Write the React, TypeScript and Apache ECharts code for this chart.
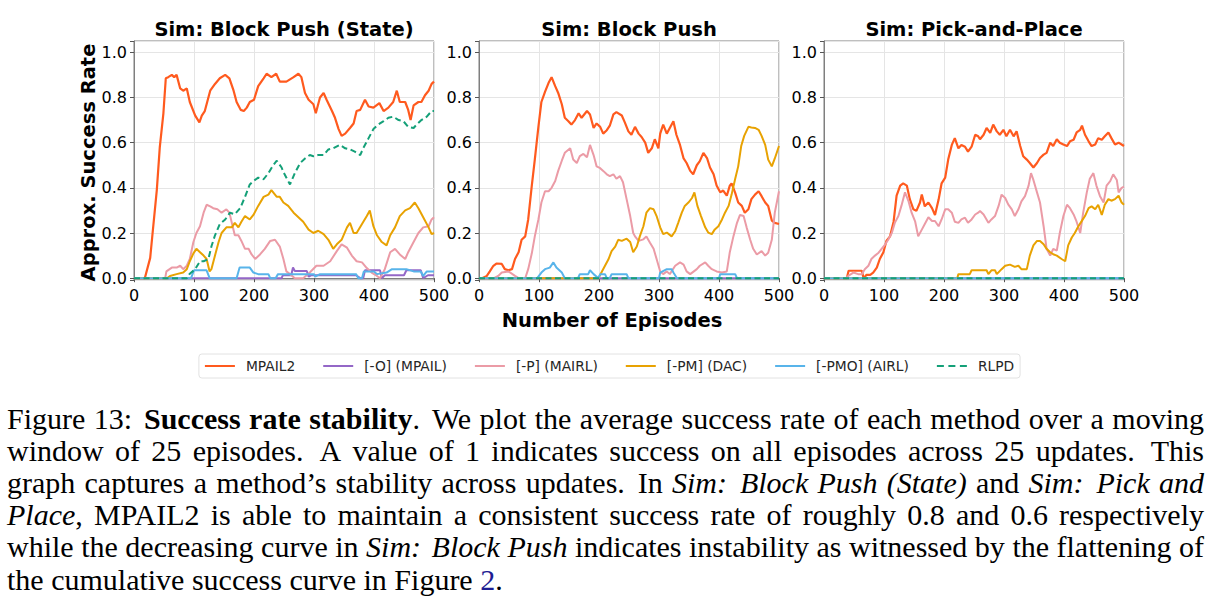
import { useEffect, useRef } from 'react';
import * as echarts from 'echarts';

type Pt = [number, number];

const METHODS = ['MPAIL2', '[-O] (MPAIL)', '[-P] (MAIRL)', '[-PM] (DAC)', '[-PMO] (AIRL)', 'RLPD'];
const METHOD_COLORS = ['#ff5a1e', '#9467c7', '#eb9ba6', '#e8a202', '#58b4ea', '#14a078'];
const PANEL_TITLES = ['Sim: Block Push (State)', 'Sim: Block Push', 'Sim: Pick-and-Place'];
const X_TITLE = 'Number of Episodes';
const Y_TITLE = 'Approx. Success Rate';

// ---- Sim: Block Push (State) ----
const bpsMpail2: Pt[] = [[0,0],[18,0],[27,0.09],[31,0.2],[38,0.39],[43,0.58],[49,0.73],[53,0.885],[57,0.89],[63,0.9],[67,0.89],[71,0.9],[77,0.84],[82,0.83],[88,0.84],[93,0.78],[102,0.72],[109,0.69],[113,0.72],[118,0.74],[127,0.83],[135,0.86],[143,0.885],[152,0.9],[159,0.885],[166,0.83],[171,0.78],[178,0.745],[183,0.74],[188,0.755],[193,0.78],[200,0.79],[207,0.85],[216,0.885],[221,0.905],[229,0.89],[237,0.905],[243,0.87],[254,0.87],[266,0.89],[274,0.905],[279,0.89],[285,0.82],[291,0.79],[299,0.77],[303,0.73],[310,0.8],[316,0.82],[321,0.79],[330,0.74],[335,0.71],[341,0.66],[346,0.63],[352,0.64],[360,0.665],[366,0.685],[371,0.74],[377,0.745],[385,0.79],[391,0.76],[399,0.755],[409,0.775],[416,0.74],[424,0.755],[432,0.78],[438,0.83],[443,0.78],[452,0.78],[457,0.745],[461,0.7],[466,0.765],[474,0.78],[479,0.78],[485,0.81],[491,0.83],[496,0.86],[500,0.87]];
const bpsMpail: Pt[] = [[0,0],[246,0],[248,0.013],[262,0.013],[265,0.047],[268,0.032],[288,0.032],[291,0.007],[295,0.013],[370,0.013],[377,0],[382,0],[385,0.035],[410,0.035],[413,0],[418,0.013],[450,0.013],[454,0.035],[478,0.035],[482,0],[490,0.013],[500,0.013]];
const bpsMairl: Pt[] = [[0,0],[52,0],[54,0.03],[63,0.047],[71,0.047],[77,0.055],[82,0.04],[88,0.055],[93,0.085],[99,0.16],[104,0.2],[110,0.23],[116,0.29],[121,0.325],[127,0.318],[132,0.31],[139,0.305],[146,0.29],[154,0.305],[159,0.29],[163,0.245],[168,0.19],[174,0.19],[179,0.165],[185,0.13],[191,0.13],[196,0.105],[202,0.085],[210,0.105],[218,0.13],[227,0.165],[235,0.17],[243,0.14],[249,0.085],[254,0.03],[260,0.018],[268,0],[282,0],[293,0.025],[304,0.055],[316,0.055],[327,0.075],[338,0.12],[346,0.15],[355,0.135],[363,0.1],[371,0.075],[380,0.07],[388,0.045],[396,0.025],[405,0.01],[410,0],[418,0.04],[427,0.115],[435,0.13],[443,0.105],[452,0.085],[457,0.115],[466,0.16],[474,0.2],[482,0.225],[491,0.23],[496,0.26],[500,0.27]];
const bpsDac: Pt[] = [[0,0],[55,0],[60,0.01],[71,0.018],[82,0.025],[88,0.04],[93,0.075],[99,0.11],[104,0.13],[110,0.115],[116,0.1],[121,0.085],[126,0.03],[129,0.04],[135,0.1],[141,0.16],[146,0.2],[154,0.225],[163,0.225],[168,0.245],[174,0.225],[179,0.25],[185,0.275],[193,0.26],[199,0.28],[207,0.32],[216,0.36],[224,0.37],[229,0.39],[238,0.36],[243,0.36],[249,0.335],[257,0.32],[266,0.29],[274,0.27],[282,0.25],[291,0.215],[299,0.2],[307,0.21],[316,0.195],[324,0.17],[332,0.13],[338,0.15],[346,0.17],[355,0.225],[360,0.245],[366,0.2],[371,0.2],[380,0.24],[388,0.275],[393,0.3],[399,0.23],[405,0.19],[413,0.16],[421,0.145],[427,0.19],[435,0.225],[443,0.275],[452,0.3],[460,0.31],[468,0.335],[474,0.31],[482,0.27],[491,0.225],[496,0.195],[500,0.2]];
const bpsAirl: Pt[] = [[0,0],[95,0],[100,0.035],[121,0.035],[126,0],[171,0],[176,0.047],[193,0.047],[199,0.025],[207,0.018],[224,0.018],[227,0],[236,0],[240,0.018],[300,0.018],[302,0.007],[310,0.018],[370,0.018],[374,0],[380,0],[383,0.03],[400,0.03],[405,0.018],[421,0.025],[430,0.04],[454,0.04],[466,0.03],[478,0.03],[482,0.01],[488,0.03],[500,0.03]];
const bpsRlpd: Pt[] = [[0,0],[88,0],[93,0.02],[102,0.04],[110,0.075],[116,0.075],[124,0.085],[129,0.14],[135,0.19],[143,0.24],[152,0.26],[160,0.29],[168,0.283],[177,0.31],[185,0.36],[193,0.415],[199,0.43],[207,0.445],[216,0.438],[224,0.465],[232,0.5],[238,0.52],[246,0.49],[249,0.47],[254,0.445],[260,0.415],[268,0.465],[277,0.51],[285,0.53],[293,0.545],[299,0.54],[307,0.545],[316,0.545],[324,0.57],[332,0.575],[343,0.59],[352,0.575],[360,0.57],[368,0.56],[377,0.545],[382,0.575],[391,0.62],[399,0.66],[407,0.68],[416,0.695],[424,0.71],[432,0.715],[441,0.7],[449,0.695],[457,0.67],[466,0.665],[471,0.68],[479,0.7],[488,0.715],[496,0.74],[500,0.74]];

// ---- Sim: Block Push ----
const bpMpail2: Pt[] = [[0,0],[5,0],[13,0.01],[18,0.03],[24,0.055],[29,0.065],[38,0.063],[43,0.04],[49,0.035],[55,0.04],[60,0.085],[66,0.115],[71,0.17],[77,0.185],[82,0.26],[88,0.41],[93,0.525],[99,0.67],[104,0.78],[110,0.825],[116,0.865],[121,0.89],[127,0.85],[132,0.82],[138,0.77],[143,0.71],[149,0.695],[154,0.68],[160,0.7],[166,0.73],[171,0.71],[180,0.74],[185,0.725],[191,0.665],[196,0.685],[202,0.67],[207,0.64],[213,0.655],[218,0.675],[224,0.725],[229,0.735],[238,0.72],[243,0.69],[249,0.65],[254,0.635],[260,0.67],[266,0.64],[271,0.625],[277,0.6],[282,0.555],[288,0.575],[293,0.615],[299,0.575],[302,0.64],[307,0.68],[313,0.64],[318,0.665],[324,0.695],[329,0.635],[335,0.59],[341,0.53],[346,0.51],[352,0.475],[357,0.46],[363,0.5],[368,0.518],[374,0.555],[380,0.532],[385,0.49],[391,0.46],[396,0.41],[402,0.38],[407,0.388],[413,0.365],[418,0.41],[421,0.42],[427,0.378],[432,0.335],[438,0.32],[443,0.29],[449,0.305],[454,0.35],[460,0.37],[466,0.385],[471,0.363],[477,0.335],[482,0.32],[488,0.255],[493,0.245],[500,0.24]];
const bpMpail: Pt[] = [[0,0],[500,0]];
const bpMairl: Pt[] = [[0,0],[25,0],[32,0.01],[38,0.025],[49,0.03],[60,0.01],[66,0],[77,0],[82,0.04],[88,0.11],[93,0.185],[99,0.26],[104,0.335],[110,0.385],[116,0.385],[121,0.4],[127,0.43],[132,0.475],[138,0.52],[143,0.555],[152,0.575],[157,0.525],[163,0.51],[168,0.54],[174,0.55],[180,0.535],[185,0.59],[191,0.545],[196,0.495],[202,0.487],[207,0.475],[213,0.46],[218,0.452],[224,0.46],[229,0.44],[235,0.452],[240,0.425],[246,0.35],[252,0.275],[257,0.2],[260,0.185],[266,0.165],[274,0.172],[279,0.185],[285,0.157],[291,0.13],[296,0.085],[302,0.03],[307,0.018],[313,0.03],[318,0.018],[327,0.055],[335,0.07],[341,0.06],[346,0.03],[352,0.018],[357,0.028],[363,0.04],[368,0.055],[377,0.07],[382,0.055],[388,0.04],[396,0.03],[405,0.025],[413,0.03],[418,0.115],[424,0.185],[430,0.245],[435,0.28],[441,0.275],[446,0.225],[452,0.17],[457,0.13],[463,0.105],[471,0.12],[477,0.1],[482,0.113],[488,0.17],[493,0.29],[500,0.385]];
const bpDac: Pt[] = [[0,0],[199,0],[204,0.025],[210,0.055],[216,0.085],[221,0.12],[227,0.14],[232,0.17],[238,0.165],[246,0.175],[252,0.16],[257,0.115],[263,0.14],[268,0.185],[274,0.23],[279,0.29],[285,0.31],[291,0.305],[296,0.275],[302,0.225],[307,0.195],[313,0.202],[321,0.185],[327,0.208],[332,0.245],[338,0.29],[343,0.32],[349,0.335],[355,0.355],[359,0.38],[364,0.32],[370,0.275],[377,0.225],[382,0.202],[388,0.195],[393,0.216],[399,0.23],[405,0.26],[410,0.29],[416,0.32],[421,0.37],[427,0.44],[432,0.495],[437,0.585],[442,0.63],[449,0.67],[454,0.667],[460,0.665],[466,0.657],[471,0.63],[477,0.59],[482,0.525],[488,0.495],[493,0.53],[500,0.585]];
const bpAirl: Pt[] = [[0,0],[97,0],[104,0.025],[110,0.04],[118,0.047],[124,0.07],[129,0.047],[138,0.025],[143,0],[165,0],[168,0.018],[182,0.018],[185,0.035],[191,0.018],[199,0],[202,0.018],[210,0.018],[213,0],[218,0],[221,0.018],[246,0.018],[249,0],[300,0],[302,0.025],[313,0.04],[321,0.04],[324,0.025],[330,0],[400,0],[402,0.018],[427,0.018],[430,0],[500,0]];
const bpRlpd: Pt[] = [[0,0],[500,0]];

// ---- Sim: Pick-and-Place ----
const ppMpail2: Pt[] = [[0,0],[38,0],[41,0.033],[63,0.033],[66,0],[71,0.015],[77,0.015],[82,0.025],[88,0.047],[93,0.085],[99,0.115],[104,0.165],[110,0.185],[116,0.25],[121,0.365],[127,0.41],[132,0.42],[138,0.41],[143,0.35],[149,0.305],[154,0.298],[160,0.335],[163,0.37],[168,0.318],[174,0.335],[180,0.31],[185,0.28],[191,0.348],[196,0.42],[202,0.445],[207,0.525],[213,0.59],[218,0.62],[224,0.575],[229,0.59],[235,0.582],[240,0.56],[246,0.582],[252,0.635],[257,0.628],[260,0.615],[266,0.635],[271,0.665],[277,0.643],[282,0.68],[288,0.65],[293,0.635],[299,0.657],[304,0.628],[310,0.657],[316,0.628],[321,0.65],[327,0.585],[332,0.54],[338,0.525],[343,0.51],[349,0.49],[355,0.51],[360,0.532],[366,0.547],[371,0.555],[377,0.6],[382,0.585],[388,0.615],[393,0.6],[399,0.592],[405,0.585],[410,0.606],[416,0.613],[421,0.645],[427,0.657],[430,0.675],[435,0.635],[441,0.606],[446,0.585],[452,0.592],[457,0.62],[463,0.613],[468,0.628],[474,0.645],[479,0.62],[485,0.592],[491,0.6],[496,0.592],[500,0.585]];
const ppMpail: Pt[] = [[0,0],[500,0]];
const ppMairl: Pt[] = [[0,0],[36,0],[43,0.015],[49,0.025],[57,0.018],[63,0.018],[68,0.04],[74,0.055],[79,0.085],[85,0.1],[91,0.113],[96,0.13],[102,0.15],[107,0.17],[113,0.2],[118,0.245],[124,0.275],[129,0.32],[135,0.38],[141,0.34],[146,0.29],[152,0.25],[157,0.185],[163,0.215],[168,0.24],[174,0.27],[180,0.253],[185,0.253],[191,0.23],[196,0.26],[202,0.305],[207,0.305],[213,0.29],[218,0.25],[224,0.245],[229,0.26],[235,0.268],[240,0.245],[246,0.26],[252,0.282],[257,0.29],[260,0.297],[266,0.282],[274,0.245],[279,0.26],[285,0.275],[291,0.32],[296,0.37],[302,0.355],[307,0.327],[313,0.305],[318,0.275],[324,0.305],[329,0.34],[335,0.363],[341,0.41],[345,0.465],[349,0.435],[355,0.38],[360,0.335],[366,0.23],[371,0.13],[377,0.1],[382,0.13],[388,0.122],[393,0.2],[399,0.275],[405,0.325],[410,0.31],[416,0.282],[421,0.25],[427,0.2],[432,0.29],[438,0.38],[443,0.44],[449,0.465],[454,0.41],[460,0.363],[466,0.335],[471,0.41],[477,0.43],[482,0.46],[488,0.435],[491,0.38],[496,0.4],[500,0.405]];
const ppDac: Pt[] = [[0,0],[222,0],[224,0.018],[243,0.018],[246,0.035],[271,0.035],[274,0.018],[279,0.035],[285,0.035],[288,0.018],[296,0.04],[302,0.055],[310,0.06],[318,0.05],[324,0.055],[329,0.04],[338,0.04],[343,0.1],[349,0.145],[355,0.165],[360,0.165],[366,0.15],[371,0.13],[377,0.115],[382,0.106],[388,0.1],[396,0.085],[402,0.075],[407,0.145],[413,0.18],[418,0.2],[424,0.23],[430,0.255],[435,0.275],[441,0.31],[446,0.318],[452,0.305],[457,0.325],[463,0.28],[468,0.325],[474,0.35],[479,0.343],[485,0.35],[491,0.365],[496,0.335],[500,0.325]];
const ppAirl: Pt[] = [[0,0],[500,0]];
const ppRlpd: Pt[] = [[0,0],[500,0]];

const PANEL_DATA: Pt[][][] = [
  [bpsMpail2, bpsMpail, bpsMairl, bpsDac, bpsAirl, bpsRlpd],
  [bpMpail2, bpMpail, bpMairl, bpDac, bpAirl, bpRlpd],
  [ppMpail2, ppMpail, ppMairl, ppDac, ppAirl, ppRlpd],
];

// Caption: runs of [style, text]; n = regular, b = bold, i = italic, l = link
type Run = [string, string];
const CAPTION: Run[][] = [
  [['n', 'Figure 13: '], ['b', 'Success rate stability'], ['n', '. We plot the average success rate of each method over a moving']],
  [['n', 'window of 25 episodes.  A value of 1 indicates success on all episodes across 25 updates.  This']],
  [['n', 'graph captures a method\u2019s stability across updates. In '], ['i', 'Sim: Block Push (State)'], ['n', ' and '], ['i', 'Sim: Pick and']],
  [['i', 'Place'], ['n', ', MPAIL2 is able to maintain a consistent success rate of roughly 0.8 and 0.6 respectively']],
  [['n', 'while the decreasing curve in '], ['i', 'Sim: Block Push'], ['n', ' indicates instability as witnessed by the flattening of']],
  [['n', 'the cumulative success curve in Figure '], ['l', '2'], ['n', '.']],
];

const SANS = 'DejaVu Sans';
const SERIF = 'Liberation Serif';
const CAP_SIZE = 30;
const CAP_LEFT = 7;
const CAP_RIGHT = 1204;
const CAP_TOP = 418;
const CAP_LEADING = 32.2;

const GRID_LEFTS = [134, 479, 824];
const GRID_TOP = 41;
const GRID_W = 300;
const GRID_H = 239;

// legend glyph for the dashed RLPD line (three dashes across the 30px icon box)
const DASH_ICON = 'path://M0,0h7v2h-7zM11.5,0h7v2h-7zM23,0h7v2h-7z';

function capFont(s: string) {
  return `${s === 'i' ? 'italic ' : ''}${s === 'b' ? 'bold ' : ''}${CAP_SIZE}px "${SERIF}"`;
}

function splitWords(line: Run[]): Run[][] {
  const words: Run[][] = [];
  let cur: Run[] = [];
  for (const [s, t] of line) {
    t.split(' ').forEach((p, k) => {
      if (k > 0 && cur.length) {
        words.push(cur);
        cur = [];
      }
      if (p) cur.push([s, p]);
    });
  }
  if (cur.length) words.push(cur);
  return words;
}

function captionGraphics() {
  const ctx = document.createElement('canvas').getContext('2d')!;
  const measure = (s: string, t: string) => {
    ctx.font = capFont(s);
    return ctx.measureText(t).width;
  };
  const richStyles: Record<string, any> = {
    n: { fontFamily: SERIF, fontSize: CAP_SIZE, fill: '#000' },
    b: { fontFamily: SERIF, fontSize: CAP_SIZE, fontWeight: 'bold', fill: '#000' },
    i: { fontFamily: SERIF, fontSize: CAP_SIZE, fontStyle: 'italic', fill: '#000' },
    l: { fontFamily: SERIF, fontSize: CAP_SIZE, fill: '#1d1d93' },
  };
  const out: any[] = [];
  CAPTION.forEach((line, li) => {
    const words = splitWords(line);
    const widths = words.map((w) => w.reduce((a, [s, t]) => a + measure(s, t), 0));
    const weights = words.slice(0, -1).map((w) => {
      const last = w[w.length - 1][1];
      return /[.:]$/.test(last) ? 1.4 : 1;
    });
    const total = widths.reduce((a, b) => a + b, 0);
    const wsum = weights.reduce((a, b) => a + b, 0);
    const justify = li < CAPTION.length - 1;
    const unit = justify ? (CAP_RIGHT - CAP_LEFT - total) / wsum : measure('n', ' ');
    let x = CAP_LEFT;
    const y = CAP_TOP + li * CAP_LEADING;
    words.forEach((w, wi) => {
      out.push({
        type: 'text',
        x,
        y,
        silent: true,
        style: {
          text: w.map(([s, t]) => `{${s}|${t}}`).join(''),
          rich: richStyles,
          fontFamily: SERIF,
          fontSize: CAP_SIZE,
          fill: '#000',
          verticalAlign: 'middle',
          align: 'left',
        },
      });
      x += widths[wi] + (wi < weights.length ? weights[wi] * unit : 0);
    });
  });
  return out;
}

function yLabel(v: number) {
  if (v < -1e-6 || v > 1.0001) return '';
  if (Math.abs(v * 5 - Math.round(v * 5)) > 1e-6) return '';
  return v.toFixed(1);
}

export default function App() {
  const ref = useRef<HTMLDivElement>(null);

  useEffect(() => {
    if (!ref.current) return;
    const chart = echarts.init(ref.current, undefined, { renderer: 'svg' });

    const grids = GRID_LEFTS.map((left) => ({
      left,
      top: GRID_TOP,
      width: GRID_W,
      height: GRID_H,
      show: true,
      borderColor: '#7f7f7f',
      borderWidth: 1,
      backgroundColor: 'transparent',
    }));

    const xAxes = GRID_LEFTS.map((_, i) => ({
      type: 'value',
      gridIndex: i,
      min: 0,
      max: 500,
      interval: 100,
      axisLine: { show: true, lineStyle: { color: '#7f7f7f', width: 1 } },
      axisTick: { show: true, length: 4, lineStyle: { color: '#555' } },
      axisLabel: { fontFamily: SANS, fontSize: 16, color: '#000', margin: 7 },
      splitLine: { show: true, lineStyle: { color: '#e5e5e5', width: 1 } },
    }));

    const yAxes = GRID_LEFTS.map((_, i) => ({
      type: 'value',
      gridIndex: i,
      min: -0.008,
      max: 1.05,
      splitNumber: 5,
      axisLine: { show: true, lineStyle: { color: '#7f7f7f', width: 1 } },
      axisTick: { show: true, length: 4, lineStyle: { color: '#555' } },
      axisLabel: { fontFamily: SANS, fontSize: 16, color: '#000', margin: 7, formatter: yLabel },
      splitLine: { show: true, lineStyle: { color: '#e5e5e5', width: 1 } },
    }));

    const series: any[] = [];
    PANEL_DATA.forEach((panel, pi) => {
      panel.forEach((data, mi) => {
        series.push({
          type: 'line',
          name: METHODS[mi],
          xAxisIndex: pi,
          yAxisIndex: pi,
          data,
          symbol: 'none',
          clip: false,
          z: 2 + mi,
          lineStyle: {
            color: METHOD_COLORS[mi],
            width: mi === 0 ? 2.2 : 2,
            type: mi === 5 ? [6, 3.5] : 'solid',
          },
          itemStyle: { color: METHOD_COLORS[mi] },
        });
      });
    });

    const titles = PANEL_TITLES.map((text, i) => ({
      text,
      left: GRID_LEFTS[i] + GRID_W / 2,
      top: 19,
      padding: 0,
      textAlign: 'center',
      textStyle: { fontFamily: SANS, fontSize: 19.5, fontWeight: 'bold', color: '#000' },
    }));

    chart.setOption({
      animation: false,
      backgroundColor: '#fff',
      title: titles,
      grid: grids,
      xAxis: xAxes,
      yAxis: yAxes,
      legend: {
        data: METHODS.map((name, i) => ({ name, icon: i === 5 ? DASH_ICON : 'rect' })),
        left: 'center',
        top: 354,
        itemWidth: 30,
        itemHeight: 2,
        itemGap: 28,
        padding: [5, 6],
        borderColor: '#e2e2e2',
        borderWidth: 1,
        borderRadius: 3,
        textStyle: { fontFamily: SANS, fontSize: 13.8, color: '#262626', padding: [0, 0, 0, 6] },
      },
      graphic: [
        {
          type: 'text',
          x: 88,
          y: GRID_TOP + GRID_H / 2 + 2,
          rotation: Math.PI / 2,
          silent: true,
          style: {
            text: Y_TITLE,
            fontFamily: SANS,
            fontSize: 19.5,
            fontWeight: 'bold',
            fill: '#000',
            align: 'center',
            verticalAlign: 'middle',
          },
        },
        {
          type: 'text',
          x: 612,
          y: 320,
          silent: true,
          style: {
            text: X_TITLE,
            fontFamily: SANS,
            fontSize: 19.5,
            fontWeight: 'bold',
            fill: '#000',
            align: 'center',
            verticalAlign: 'middle',
          },
        },
        ...captionGraphics(),
      ],
      series,
    });

    return () => chart.dispose();
  }, []);

  return (
    <div
      ref={ref}
      style={{ position: 'absolute', left: 0, top: 0, width: 1219, height: 612, background: '#fff' }}
    />
  );
}
